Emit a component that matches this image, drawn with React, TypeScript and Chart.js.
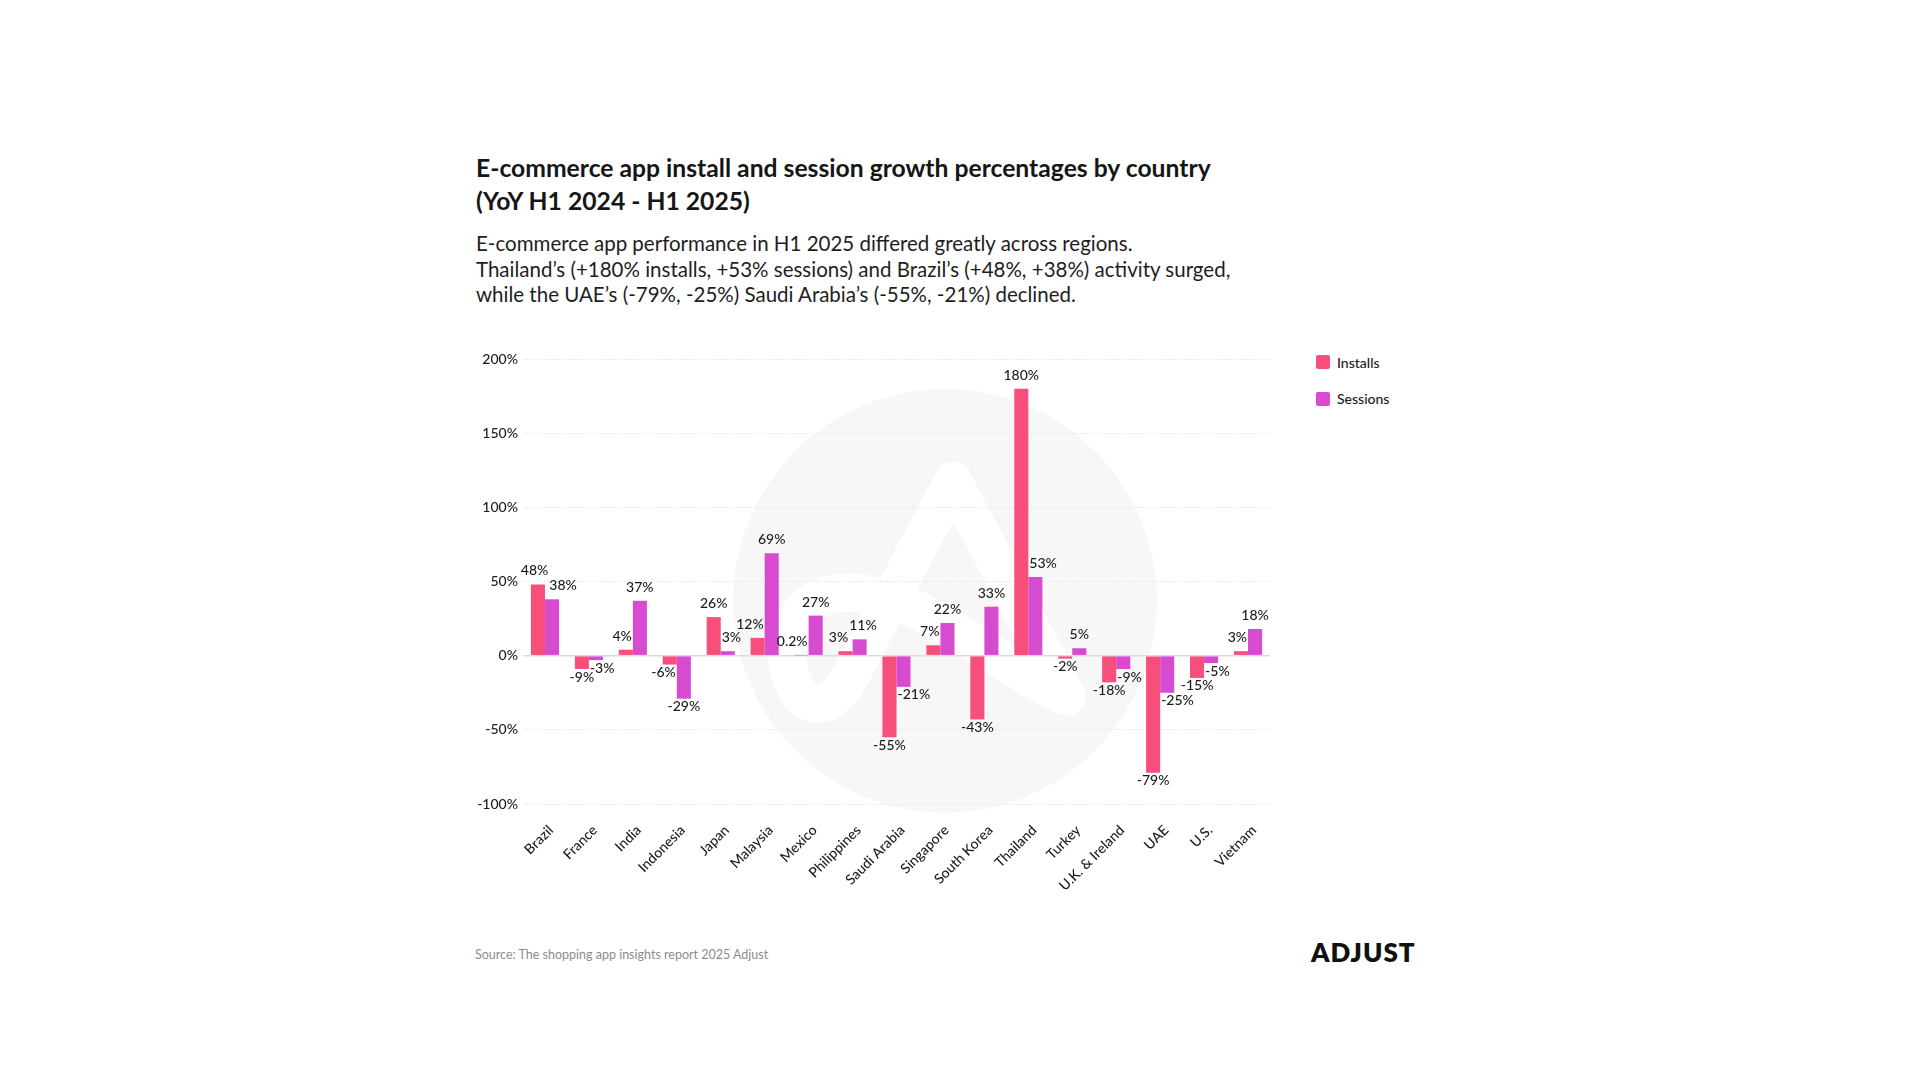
import React, { useEffect, useRef } from "react";
import { Chart, registerables } from "chart.js";

Chart.register(...registerables);

const categories = [
  "Brazil", "France", "India", "Indonesia", "Japan", "Malaysia", "Mexico",
  "Philippines", "Saudi Arabia", "Singapore", "South Korea", "Thailand",
  "Turkey", "U.K. & Ireland", "UAE", "U.S.", "Vietnam",
];
const installs = [48, -9, 4, -6, 26, 12, 0.2, 3, -55, 7, -43, 180, -2, -18, -79, -15, 3];
const sessions = [38, -3, 37, -29, 3, 69, 27, 11, -21, 22, 33, 53, 5, -9, -25, -5, 18];
const seriesNames = ["Installs", "Sessions"];
const seriesColors = ["#F74F7B", "#D64BCF"];
const yMin = -100;
const yMax = 200;
const yStep = 50;

const FONT = "Lato, 'Noto Sans', sans-serif";
const TEXT = "#1c1c1c";

const fmt = (v: number) => `${v}%`;

const watermarkPlugin = {
  id: "watermark",
  beforeDraw(chart: any) {
    const { ctx, chartArea, scales } = chart;
    const y = scales.y;
    const cx = chartArea.left + (chartArea.right - chartArea.left) * 0.565;
    const cy = y.getPixelForValue(37);
    const r = (y.getPixelForValue(-100) - y.getPixelForValue(200)) * 0.476;
    ctx.save();
    ctx.fillStyle = "#f7f7f7";
    ctx.beginPath();
    ctx.arc(cx, cy, r, 0, Math.PI * 2);
    ctx.fill();
    const s = r / 212;
    const P = (dx: number, dy: number) => [cx + dx * s, cy + dy * s] as [number, number];
    ctx.strokeStyle = "#ffffff";
    ctx.lineWidth = 38 * s;
    ctx.lineCap = "round";
    ctx.lineJoin = "round";
    ctx.beginPath();
    let p = P(122, 96);
    ctx.moveTo(p[0], p[1]);
    p = P(8, -120);
    ctx.lineTo(p[0], p[1]);
    p = P(-100, 85);
    ctx.lineTo(p[0], p[1]);
    const c1 = P(-150, 150), c2 = P(-190, 20), e1 = P(-120, -5);
    ctx.bezierCurveTo(c1[0], c1[1], c2[0], c2[1], e1[0], e1[1]);
    const c3 = P(-40, -25), c4 = P(40, 60), e2 = P(122, 96);
    ctx.bezierCurveTo(c3[0], c3[1], c4[0], c4[1], e2[0], e2[1]);
    ctx.stroke();
    ctx.restore();
  },
};

const labelPlugin = {
  id: "barLabels",
  afterDatasetsDraw(chart: any) {
    const ctx = chart.ctx;
    const m0 = chart.getDatasetMeta(0);
    const m1 = chart.getDatasetMeta(1);
    ctx.save();
    ctx.font = `500 14px ${FONT}`;
    ctx.fillStyle = TEXT;
    ctx.textAlign = "center";
    ctx.textBaseline = "alphabetic";
    const capH = 10;
    for (let i = 0; i < categories.length; i++) {
      const vals = [installs[i], sessions[i]];
      const items = [m0.data[i], m1.data[i]].map((el: any, k: number) => {
        const p = el.getProps(["x", "y", "base", "width"], true);
        const v = vals[k];
        const text = fmt(v);
        const w = ctx.measureText(text).width;
        const top = Math.min(p.y, p.base);
        const bottom = Math.max(p.y, p.base);
        const baseline = v >= 0 ? top - 9 : bottom + capH + 2.5;
        return {
          v, text, cx: p.x, w, baseline,
          barL: p.x - p.width / 2, barR: p.x + p.width / 2, barT: top, barB: bottom,
        };
      });
      const [a, b] = items;
      const box = (o: any) => ({
        l: o.cx - o.w / 2, r: o.cx + o.w / 2, t: o.baseline - capH - 1, btm: o.baseline + 1,
      });
      let A = box(a);
      if (A.r > b.barL && A.l < b.barR && A.btm > b.barT && A.t < b.barB) a.cx -= A.r - b.barL + 1;
      let B = box(b);
      if (B.l < a.barR && B.r > a.barL && B.btm > a.barT && B.t < a.barB) b.cx += a.barR - B.l + 1;
      A = box(a);
      B = box(b);
      const m = 5;
      if (a.v >= 0 && b.v >= 0 && A.r > B.l && A.btm + m > B.t && A.t - m < B.btm) {
        const ov = (A.r - B.l + 1) / 2;
        a.cx -= ov;
        b.cx += ov;
      }
      for (const o of items) ctx.fillText(o.text, o.cx, o.baseline);
    }
    ctx.restore();
  },
};

function BarChart() {
  const ref = useRef<HTMLCanvasElement | null>(null);
  useEffect(() => {
    if (!ref.current) return;
    const chart = new Chart(ref.current, {
      type: "bar",
      data: {
        labels: categories,
        datasets: [
          { label: seriesNames[0], data: installs, backgroundColor: seriesColors[0] },
          { label: seriesNames[1], data: sessions, backgroundColor: seriesColors[1] },
        ],
      },
      options: {
        responsive: false,
        animation: false,
        devicePixelRatio: 1,
        datasets: { bar: { barPercentage: 1, categoryPercentage: 0.64 } },
        layout: { padding: { top: 19, right: 10, left: 0, bottom: 0 } },
        plugins: { legend: { display: false }, tooltip: { enabled: false } },
        scales: {
          x: {
            grid: { display: false, drawTicks: false },
            border: { display: false },
            ticks: {
              minRotation: 45, maxRotation: 45, autoSkip: false, padding: 18, labelOffset: 6,
              color: TEXT, font: { family: FONT, size: 14, weight: "500" },
            },
            afterFit: (s: any) => { s.height = 110; },
          },
          y: {
            min: yMin, max: yMax,
            grid: {
              drawTicks: false,
              color: (c: any) => (c.tick && c.tick.value === 0 ? "#dcdcdc" : "#e2e2e2"),
              lineWidth: (c: any) => (c.tick && c.tick.value === 0 ? 1.5 : 1),
            },
            border: {
              display: false,
              dash: (c: any) => (c.tick && c.tick.value === 0 ? [] : [1.5, 2]),
            },
            ticks: {
              stepSize: yStep, padding: 5, color: TEXT,
              font: { family: FONT, size: 14, weight: "500" },
              callback: (v: any) => `${v}%`,
            },
            afterFit: (s: any) => { s.width = 63; },
          },
        },
      },
      plugins: [watermarkPlugin, labelPlugin],
    } as any);
    return () => chart.destroy();
  }, []);
  return (
    <canvas
      ref={ref}
      width={820}
      height={574}
      style={{ position: "absolute", left: 460, top: 340, width: 820, height: 574 }}
    />
  );
}

export default function App() {
  return (
    <div style={{ position: "absolute", left: 0, top: 0, width: 1920, height: 1080, background: "#fff", fontFamily: FONT, color: TEXT }}>
      <div style={{ position: "absolute", left: 476, top: 151, fontSize: 24.7, fontWeight: 700, lineHeight: "33px", whiteSpace: "nowrap", color: "#161616" }}>
        E-commerce app install and session growth percentages by country
        <br />
        (YoY H1 2024 - H1 2025)
      </div>
      <div style={{ position: "absolute", left: 476, top: 231, fontSize: 20.5, fontWeight: 400, lineHeight: "25.7px", whiteSpace: "nowrap", color: "#1e1e1e" }}>
        E-commerce app performance in H1 2025 differed greatly across regions.
        <br />
        Thailand’s (+180% installs, +53% sessions) and Brazil’s (+48%, +38%) activity surged,
        <br />
        while the UAE’s (-79%, -25%) Saudi Arabia’s (-55%, -21%) declined.
      </div>
      <BarChart />
      {seriesNames.map((n, i) => (
        <div key={n} style={{ position: "absolute", left: 1316, top: 355 + i * 36.5, height: 14, display: "flex", alignItems: "center", whiteSpace: "nowrap" }}>
          <span style={{ display: "inline-block", width: 14, height: 14, borderRadius: 2, background: seriesColors[i], marginRight: 7 }} />
          <span style={{ fontSize: 14, fontWeight: 500 }}>{n}</span>
        </div>
      ))}
      <div style={{ position: "absolute", left: 475, top: 947, fontSize: 12.5, color: "#8c8c8c", whiteSpace: "nowrap" }}>
        Source: The shopping app insights report 2025 Adjust
      </div>
      <div style={{ position: "absolute", left: 1311, top: 936, fontSize: 26, fontWeight: 800, letterSpacing: 1, color: "#111", whiteSpace: "nowrap" }}>
        ADJUST
      </div>
    </div>
  );
}
